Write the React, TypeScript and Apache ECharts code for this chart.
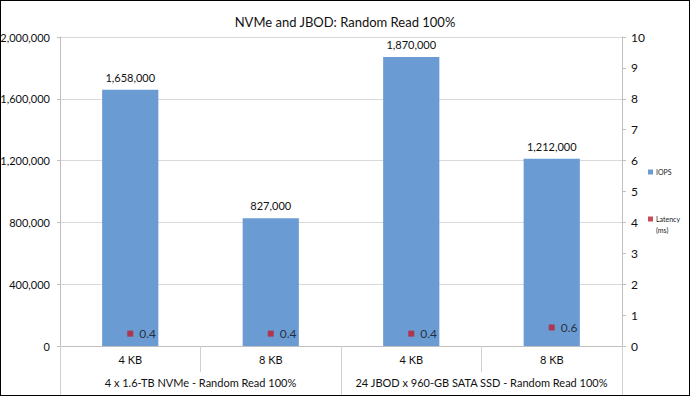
import React, { useEffect, useRef } from "react";
import * as echarts from "echarts";

const title = "NVMe and JBOD: Random Read 100%";
const blockSizes = ["4 KB", "8 KB", "4 KB", "8 KB"];
const groups = ["4 x 1.6-TB NVMe - Random Read 100%", "24 JBOD x 960-GB SATA SSD - Random Read 100%"];
const iops = [1658000, 827000, 1870000, 1212000];
const latency = [0.4, 0.4, 0.4, 0.6];
const seriesNames = ["IOPS", "Latency (ms)"];
const legendLabels = ["IOPS", "Latency"];
const legendUnit = "(ms)";

const FONT = "Lato, 'Liberation Sans', sans-serif";

export default function App() {
  const ref = useRef<HTMLDivElement>(null);
  useEffect(() => {
    document.body.style.margin = "0";
    const chart = echarts.init(ref.current!, null, { renderer: "svg" });
    chart.setOption({
      animation: false,
      textStyle: { fontFamily: FONT },
      title: {
        text: title,
        left: "center",
        top: 9,
        textStyle: { fontSize: 13, fontWeight: "normal", color: "#111", fontFamily: FONT },
      },
      legend: {
        orient: "vertical",
        left: 647,
        top: 166,
        itemWidth: 5,
        itemHeight: 5,
        itemGap: 37,
        padding: 0,
        data: [
          { name: seriesNames[0], icon: "rect" },
          { name: seriesNames[1], icon: "rect" },
        ],
        formatter: (n: string) => (n === seriesNames[1] ? legendLabels[1] : legendLabels[0]),
        textStyle: { fontSize: 7, color: "#222", fontFamily: FONT, lineHeight: 10, padding: [0, 0, 0, -2] },
      },
      graphic: [
        {
          type: "text",
          left: 655,
          top: 225,
          style: { text: legendUnit, fontSize: 7, fill: "#222", fontFamily: FONT },
        },
      ],
      grid: { left: 59, right: 67, top: 36, bottom: 49, outerBoundsMode: "none", containLabel: false },
      xAxis: [
        {
          type: "category",
          data: blockSizes,
          position: "bottom",
          axisLine: { show: true, lineStyle: { color: "#bfbfbf" } },
          axisTick: { show: true, interval: 0, length: 26, lineStyle: { color: "#d0d0d0" } },
          axisLabel: { interval: 0, margin: 8, fontSize: 11, color: "#111", fontFamily: FONT },
        },
        {
          type: "category",
          data: groups,
          position: "bottom",
          offset: 0,
          axisLine: { show: false },
          axisTick: { show: true, interval: 0, length: 50, lineStyle: { color: "#d0d0d0" } },
          axisLabel: { interval: 0, margin: 31, fontSize: 11, color: "#111", fontFamily: FONT },
        },
      ],
      yAxis: [
        {
          type: "value",
          min: 0,
          max: 2000000,
          interval: 400000,
          position: "left",
          axisLine: { show: true, lineStyle: { color: "#bfbfbf" } },
          axisTick: { show: true, length: 3, lineStyle: { color: "#bfbfbf" } },
          splitLine: { show: true, lineStyle: { color: "#d9d9d9" } },
          axisLabel: {
            margin: 10,
            fontSize: 11,
            color: "#111",
            fontFamily: FONT,
            formatter: (v: number) => v.toLocaleString("en-US"),
          },
        },
        {
          type: "value",
          min: 0,
          max: 10,
          interval: 1,
          position: "right",
          axisLine: { show: true, lineStyle: { color: "#bfbfbf" } },
          axisTick: { show: true, length: 4, lineStyle: { color: "#bfbfbf" } },
          splitLine: { show: false },
          axisLabel: { margin: 9, fontSize: 12, color: "#111", fontFamily: FONT },
        },
      ],
      series: [
        {
          name: seriesNames[0],
          type: "bar",
          data: iops,
          xAxisIndex: 0,
          yAxisIndex: 0,
          barWidth: "40%",
          itemStyle: { color: "#6a9bd3" },
          label: {
            show: true,
            position: "top",
            distance: 7,
            fontSize: 11,
            color: "#111",
            fontFamily: FONT,
            formatter: (p: any) => Number(p.value).toLocaleString("en-US"),
          },
        },
        {
          name: seriesNames[1],
          type: "scatter",
          data: latency,
          xAxisIndex: 0,
          yAxisIndex: 1,
          symbol: "rect",
          symbolSize: 6,
          itemStyle: { color: "#be1e2d" },
          label: {
            show: true,
            position: "right",
            distance: 6,
            fontSize: 12,
            color: "#111",
            fontFamily: FONT,
            formatter: (p: any) => String(p.value),
          },
        },
      ],
    });
    return () => chart.dispose();
  }, []);
  return (
    <div
      style={{
        width: 690,
        height: 396,
        border: "1px solid #000",
        boxSizing: "border-box",
        position: "relative",
        background: "#fff",
      }}
    >
      <div ref={ref} style={{ width: 688, height: 394 }} />
    </div>
  );
}
